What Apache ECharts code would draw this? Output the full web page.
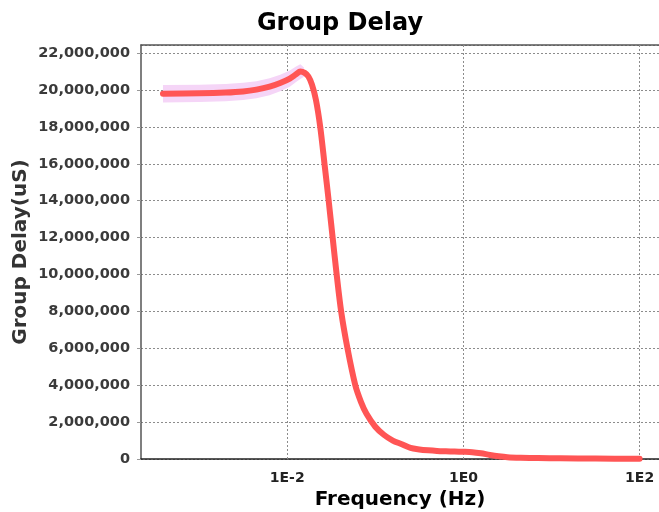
<!DOCTYPE html>
<html>
<head>
<meta charset="utf-8">
<script src="https://cdn.jsdelivr.net/npm/echarts@6/dist/echarts.min.js"></script>
<style>
html,body{margin:0;padding:0;background:#fff;}
#chart{width:659px;height:512px;}
</style>
</head>
<body>
<div id="chart"></div>
<script>
// ---- data ----
const titleText = 'Group Delay';
const xAxisName = 'Frequency (Hz)';
const yAxisName = 'Group Delay(uS)';

const freqHz = [0.000389, 0.001, 0.002, 0.00316, 0.00447, 0.00631, 0.00832, 0.0107, 0.0126, 0.0141,
  0.0158, 0.0174, 0.0191, 0.0212, 0.0237, 0.0265, 0.0295, 0.0327, 0.0363, 0.0410,
  0.0483, 0.0592, 0.0687, 0.0794, 0.100, 0.126, 0.158, 0.200, 0.251, 0.316,
  0.398, 0.501, 0.631, 0.794, 1.00, 1.26, 1.58, 2.00, 2.51, 3.16,
  4.47, 7.08, 12.6, 31.6, 100];
const delayUs = [19800000, 19820000, 19860000, 19920000, 20020000, 20180000, 20380000, 20620000, 20850000, 21000000,
  20930000, 20730000, 20290000, 19460000, 18000000, 16000000, 14040000, 12050000, 10060000, 7980000,
  6000000, 4010000, 3100000, 2450000, 1750000, 1300000, 1000000, 800000, 600000, 520000,
  470000, 435000, 415000, 400000, 390000, 370000, 310000, 220000, 150000, 100000,
  70000, 50000, 40000, 25000, 10000];

// light confidence band around the early part of the curve
const bandFreqHz = [0.000389, 0.001, 0.002, 0.00316, 0.00447, 0.00631, 0.00832, 0.0107, 0.0126, 0.0141, 0.0155];
const bandLowUs  = [19330000, 19350000, 19390000, 19460000, 19560000, 19720000, 19930000, 20180000, 20430000, 20600000, 20720000];
const bandHighUs = [20270000, 20290000, 20330000, 20390000, 20480000, 20640000, 20830000, 21060000, 21270000, 21400000, 21220000];

const gridFreqHz = [0.01, 1, 100];   // vertical grid lines (every other decade)
const xMin = 0.000219, xMax = 166;
const yMin = 0, yMax = 22440000, yStep = 2000000;

// ---- chart ----
const chart = echarts.init(document.getElementById('chart'), null, {renderer: 'canvas'});
const fontFam = '"DejaVu Sans", sans-serif';
const gridColor = '#8c8c8c';

const mainData = freqHz.map((f, i) => [f, delayUs[i]]);
const bandUpper = bandFreqHz.map((f, i) => [f, bandHighUs[i]]);
const bandLower = bandFreqHz.map((f, i) => [f, bandLowUs[i]]);

function decadeLabel(v) {
  const e = Math.log10(v);
  const r = Math.round(e);
  if (Math.abs(e - r) > 1e-6 || r % 2 !== 0) return '';
  return '1E' + r;
}

chart.setOption({
  animation: false,
  backgroundColor: '#ffffff',
  title: {
    text: titleText,
    left: 335, top: 7, textAlign: 'center',
    textStyle: {fontFamily: fontFam, fontSize: 24, fontWeight: 'bold', color: '#000'}
  },
  grid: {left: 141, right: 0, top: 45, bottom: 53, containLabel: false, outerBoundsMode: 'none'},
  xAxis: [{
    type: 'log', logBase: 10, min: xMin, max: xMax,
    name: xAxisName, nameLocation: 'middle', nameGap: 31,
    nameTextStyle: {fontFamily: fontFam, fontSize: 20, fontWeight: 'bold', color: '#000'},
    axisLine: {show: true, lineStyle: {color: '#222', width: 1.5}},
    axisTick: {show: false},
    axisLabel: {
      formatter: decadeLabel, showMinLabel: false, showMaxLabel: false, margin: 12,
      fontFamily: fontFam, fontSize: 14, fontWeight: 'bold', color: '#222'
    },
    splitLine: {show: false},
    minorTick: {show: false}, minorSplitLine: {show: false}
  }, {
    type: 'log', logBase: 10, min: xMin, max: xMax, position: 'top',
    axisLine: {show: true, onZero: false, lineStyle: {color: '#555', width: 1.5}},
    axisTick: {show: false}, axisLabel: {show: false}, splitLine: {show: false}
  }],
  yAxis: {
    type: 'value', min: yMin, max: yMax, interval: yStep,
    name: yAxisName, nameLocation: 'middle', nameGap: 110, nameRotate: 90, nameMoveOverlap: false,
    nameTextStyle: {fontFamily: fontFam, fontSize: 20, fontWeight: 'bold', color: '#333'},
    axisLine: {show: true, lineStyle: {color: '#555', width: 1.5}},
    axisTick: {show: true, length: 4, lineStyle: {color: '#999'}},
    axisLabel: {
      showMaxLabel: false, margin: 11,
      formatter: v => v.toLocaleString('en-US'),
      fontFamily: fontFam, fontSize: 14.5, fontWeight: 'bold', color: '#3a3a3a'
    },
    splitLine: {show: true, lineStyle: {color: gridColor, type: [2, 2], width: 1}}
  },
  series: [{
    type: 'custom', z: 2, silent: true, clip: true,
    data: [[bandFreqHz[0], bandLowUs[0]]],
    renderItem: function (params, api) {
      const up = bandUpper.map(p => api.coord(p));
      const lo = bandLower.map(p => api.coord(p)).reverse();
      return {
        type: 'polygon',
        shape: {points: up.concat(lo)},
        style: {fill: '#f5d5f7'}
      };
    },
    markLine: {
      silent: true, symbol: 'none', z: 1, animation: false,
      label: {show: false},
      lineStyle: {color: gridColor, type: [2, 2], width: 1},
      data: gridFreqHz.map(f => ({xAxis: f}))
    }
  }, {
    type: 'line', data: mainData, symbol: 'none', smooth: 0.3, z: 3,
    lineStyle: {color: '#ff5555', width: 6, cap: 'round', join: 'round'}
  }]
});
</script>
</body>
</html>
